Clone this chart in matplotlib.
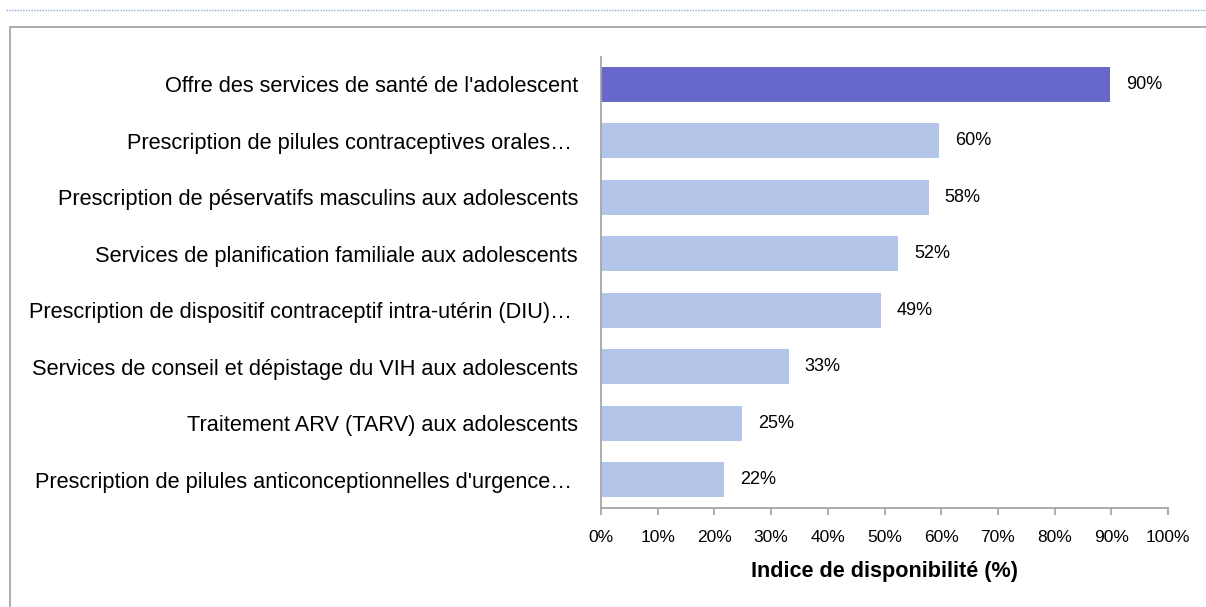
import matplotlib.pyplot as plt
from matplotlib.patches import Rectangle
from matplotlib.lines import Line2D
from matplotlib.ticker import FuncFormatter

plt.rcParams['font.family'] = ['Liberation Sans', 'DejaVu Sans']

categories = [
    "Offre des services de santé de l'adolescent",
    "Prescription de pilules contraceptives orales… ",
    "Prescription de péservatifs masculins aux adolescents",
    "Services de planification familiale aux adolescents",
    "Prescription de dispositif contraceptif intra-utérin (DIU)… ",
    "Services de conseil et dépistage du VIH aux adolescents",
    "Traitement ARV (TARV) aux adolescents",
    "Prescription de pilules anticonceptionnelles d'urgence… ",
]
values = [89.8, 59.6, 57.8, 52.4, 49.3, 33.1, 24.9, 21.7]
colors = ["#6768CA"] + ["#B3C6EA"] * 7

W, H = 1206, 607
fig = plt.figure(figsize=(W / 100, H / 100), dpi=100)

# outer frame and dotted line
fig.patches.append(Rectangle((10 / W, -0.1), 1.2, (H - 27) / H + 0.1,
                             transform=fig.transFigure, fill=False,
                             edgecolor="#A6A6A6", linewidth=1.3))
fig.lines.append(Line2D([6 / W, 1], [1 - 10 / H, 1 - 10 / H], transform=fig.transFigure,
                        color="#8FAADC", linestyle=(0, (1, 1)), linewidth=1))

x0, x1, ytop, ybot = 601, 1168, 57, 508
ax = fig.add_axes([x0 / W, 1 - ybot / H, (x1 - x0) / W, (ybot - ytop) / H])

ypos = list(range(len(categories)))
ax.barh(ypos, values, height=0.62, color=colors)
for y, v in zip(ypos, values):
    ax.text(v + 2.8, y, f"{v:.0f}%", va="center", ha="left", fontsize=13)

ax.set_xlim(0, 100)
ax.set_ylim(7.5, -0.48)
ax.set_xticks(range(0, 101, 10))
ax.xaxis.set_major_formatter(FuncFormatter(lambda v, p: f"{v:.0f}%"))
ax.set_yticks(ypos)
ax.set_yticklabels(categories, fontsize=15.7)
ax.tick_params(axis="y", length=0, pad=16.5)
ax.tick_params(axis="x", length=5, color="#A6A6A6", width=1.3, labelsize=12.5, pad=10.5)
for s in ["top", "right"]:
    ax.spines[s].set_visible(False)
for s in ["left", "bottom"]:
    ax.spines[s].set_color("#A6A6A6")
    ax.spines[s].set_linewidth(1.3)
ax.set_xlabel("Indice de disponibilité (%)", fontsize=15.6, fontweight="bold", labelpad=12)

fig.savefig("out.png", dpi=100)
